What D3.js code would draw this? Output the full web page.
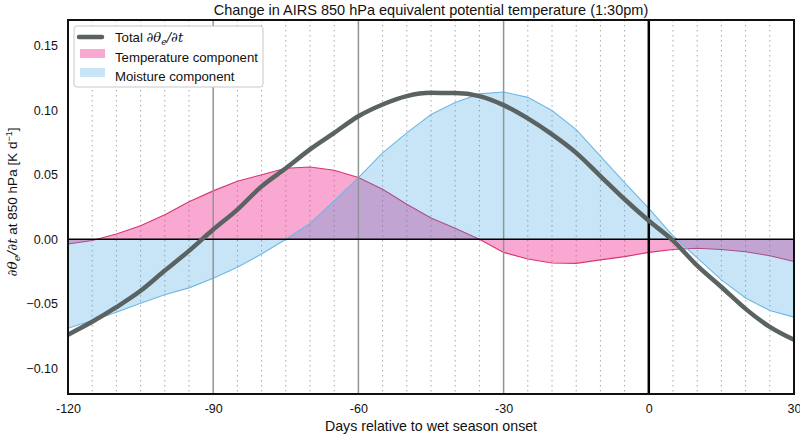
<!DOCTYPE html>
<html>
<head>
<meta charset="utf-8">
<script src="https://cdn.jsdelivr.net/npm/d3@7"></script>
<style>
  body { margin: 0; background: #fff; }
  svg text { font-family: "Liberation Sans", Arial, sans-serif; fill: #111; }
</style>
</head>
<body>
<svg id="chart" width="800" height="435"></svg>
<script>
// days relative to onset, 5-day steps
var days = [-120, -115, -110, -105, -100, -95, -90, -85, -80, -75, -70, -65, -60, -55, -50, -45,
            -40, -35, -30, -25, -20, -15, -10, -5, 0, 5, 10, 15, 20, 25, 30];

var tempComp = [-0.0037, -0.001, 0.004, 0.0104, 0.019, 0.029, 0.0375, 0.045, 0.050, 0.055, 0.056,
                0.0535, 0.0478, 0.0388, 0.0272, 0.0164, 0.0085, 0.0, -0.0102, -0.0153, -0.0184,
                -0.0187, -0.016, -0.0135, -0.0102, -0.008, -0.007, -0.008, -0.0097, -0.0128, -0.0172];

var moistComp = [-0.069, -0.063, -0.0566, -0.0496, -0.043, -0.0377, -0.0303, -0.0218, -0.0115, 0.0,
                 0.0122, 0.0298, 0.0478, 0.067, 0.0825, 0.0967, 0.106, 0.1127, 0.1142, 0.110, 0.0998,
                 0.085, 0.0645, 0.0439, 0.024, 0.0027, -0.0145, -0.0315, -0.0455, -0.0553, -0.0604];

var totalVals = [-0.074, -0.064, -0.0527, -0.040, -0.0243, -0.009, 0.0075, 0.023, 0.041, 0.055,
                 0.0697, 0.0825, 0.0954, 0.1045, 0.111, 0.1135, 0.1134, 0.111, 0.104, 0.0937, 0.0813,
                 0.067, 0.049, 0.031, 0.0143, -0.001, -0.0205, -0.037, -0.054, -0.068, -0.078];

var xTicks = [-120, -90, -60, -30, 0, 30];
var yTicks = [-0.10, -0.05, 0.00, 0.05, 0.10, 0.15];

var svg = d3.select("#chart");
var mLeft = 68, mRight = 794, mTop = 20, mBottom = 394;

var x = d3.scaleLinear().domain([-120, 30]).range([mLeft, mRight]);
var y = d3.scaleLinear().domain([-0.12, 0.17]).range([mBottom, mTop]);

// dotted 5-day grid
var minor = d3.range(-115, 30, 5).filter(function (d) { return d % 30 !== 0; });
svg.selectAll("line.minor").data(minor).enter()
  .append("line")
  .attr("class", "minor")
  .attr("x1", function (d) { return x(d); })
  .attr("x2", function (d) { return x(d); })
  .attr("y1", mTop).attr("y2", mBottom)
  .attr("stroke", "#a8a8a8")
  .attr("stroke-width", 1)
  .attr("stroke-dasharray", "1.5,3.5");

// fills
function band(vals) {
  return d3.area()
    .x(function (d, i) { return x(days[i]); })
    .y0(y(0))
    .y1(function (d) { return y(d); })(vals);
}
function edge(vals) {
  return d3.line()
    .x(function (d, i) { return x(days[i]); })
    .y(function (d) { return y(d); })(vals);
}

svg.append("path")
  .attr("d", band(tempComp))
  .attr("fill", "rgb(240,40,140)")
  .attr("fill-opacity", 0.4);
svg.append("path")
  .attr("d", edge(tempComp))
  .attr("fill", "none")
  .attr("stroke", "#d9356f")
  .attr("stroke-width", 1.1);

svg.append("path")
  .attr("d", band(moistComp))
  .attr("fill", "rgb(30,150,220)")
  .attr("fill-opacity", 0.25);
svg.append("path")
  .attr("d", edge(moistComp))
  .attr("fill", "none")
  .attr("stroke", "#6db8e6")
  .attr("stroke-width", 1.1);

// reference lines
svg.selectAll("line.major").data([-90, -60, -30]).enter()
  .append("line")
  .attr("class", "major")
  .attr("x1", function (d) { return x(d); })
  .attr("x2", function (d) { return x(d); })
  .attr("y1", mTop).attr("y2", mBottom)
  .attr("stroke", "#8e9696")
  .attr("stroke-width", 1.5);

svg.append("line")
  .attr("x1", mLeft).attr("x2", mRight)
  .attr("y1", y(0)).attr("y2", y(0))
  .attr("stroke", "#000")
  .attr("stroke-width", 1.5);

svg.append("line")
  .attr("x1", x(0)).attr("x2", x(0))
  .attr("y1", mTop).attr("y2", mBottom)
  .attr("stroke", "#000")
  .attr("stroke-width", 2.5);

// total
svg.append("path")
  .attr("d", d3.line().curve(d3.curveMonotoneX)
    .x(function (d, i) { return x(days[i]); })
    .y(function (d) { return y(d); })(totalVals))
  .attr("fill", "none")
  .attr("stroke", "#5a6262")
  .attr("stroke-width", 4.5)
  .attr("stroke-linejoin", "round");

// frame
svg.append("rect")
  .attr("x", mLeft).attr("y", mTop)
  .attr("width", mRight - mLeft).attr("height", mBottom - mTop)
  .attr("fill", "none")
  .attr("stroke", "#111")
  .attr("stroke-width", 2);

// axes (labels only)
var xAxis = svg.append("g")
  .attr("transform", "translate(0," + mBottom + ")")
  .call(d3.axisBottom(x).tickValues(xTicks).tickSize(0).tickPadding(10)
    .tickFormat(function (d) { return String(d); }));
var yAxis = svg.append("g")
  .attr("transform", "translate(" + mLeft + ",0)")
  .call(d3.axisLeft(y).tickValues(yTicks).tickSize(0).tickPadding(10)
    .tickFormat(function (d) { return d3.format(".2f")(d); }));
[xAxis, yAxis].forEach(function (g) {
  g.select(".domain").remove();
  g.selectAll("text")
    .attr("font-size", 12.5)
    .attr("font-family", "Liberation Sans, Arial, sans-serif")
    .attr("fill", "#111");
});

// title and axis titles
svg.append("text")
  .attr("x", (mLeft + mRight) / 2).attr("y", 15)
  .attr("text-anchor", "middle")
  .attr("font-size", 14.5)
  .text("Change in AIRS 850 hPa equivalent potential temperature (1:30pm)");

svg.append("text")
  .attr("x", (mLeft + mRight) / 2).attr("y", 431)
  .attr("text-anchor", "middle")
  .attr("font-size", 14.2)
  .text("Days relative to wet season onset");

var yl = svg.append("text")
  .attr("transform", "translate(17," + ((mTop + mBottom) / 2 - 5) + ") rotate(-90)")
  .attr("text-anchor", "middle")
  .attr("font-size", 13.5);
yl.append("tspan").attr("font-family", "DejaVu Serif").attr("font-style", "italic").text("\u2202\u03b8");
yl.append("tspan").attr("font-family", "DejaVu Serif").attr("font-style", "italic")
  .attr("font-size", 10).attr("dy", 3).text("e");
yl.append("tspan").attr("font-family", "DejaVu Serif").attr("font-style", "italic")
  .attr("dy", -3).text("/\u2202t");
yl.append("tspan").text(" at 850 hPa [K d");
yl.append("tspan").attr("font-size", 9).attr("dy", -5).text("\u22121");
yl.append("tspan").attr("dy", 5).text("]");

// legend
var lg = svg.append("g").attr("transform", "translate(74,26)");
lg.append("rect")
  .attr("width", 189).attr("height", 61)
  .attr("rx", 3)
  .attr("fill", "#fff")
  .attr("stroke", "#c8c8c8");
lg.append("line")
  .attr("x1", 5).attr("x2", 28).attr("y1", 11).attr("y2", 11)
  .attr("stroke", "#5a6262").attr("stroke-width", 4.5).attr("stroke-linecap", "round");
lg.append("rect").attr("x", 6).attr("y", 23).attr("width", 25).attr("height", 9)
  .attr("fill", "rgb(240,40,140)").attr("fill-opacity", 0.4);
lg.append("rect").attr("x", 6).attr("y", 42).attr("width", 25).attr("height", 9)
  .attr("fill", "rgb(30,150,220)").attr("fill-opacity", 0.25);

var t1 = lg.append("text").attr("x", 41).attr("y", 16).attr("font-size", 13.2);
t1.append("tspan").text("Total ");
t1.append("tspan").attr("font-family", "DejaVu Serif").attr("font-style", "italic").text("\u2202\u03b8");
t1.append("tspan").attr("font-family", "DejaVu Serif").attr("font-style", "italic")
  .attr("font-size", 9).attr("dy", 3).text("e");
t1.append("tspan").attr("font-family", "DejaVu Serif").attr("font-style", "italic")
  .attr("dy", -3).text("/\u2202t");
lg.append("text").attr("x", 41).attr("y", 36).attr("font-size", 13.2).text("Temperature component");
lg.append("text").attr("x", 41).attr("y", 55).attr("font-size", 13.2).text("Moisture component");
</script>
</body>
</html>
